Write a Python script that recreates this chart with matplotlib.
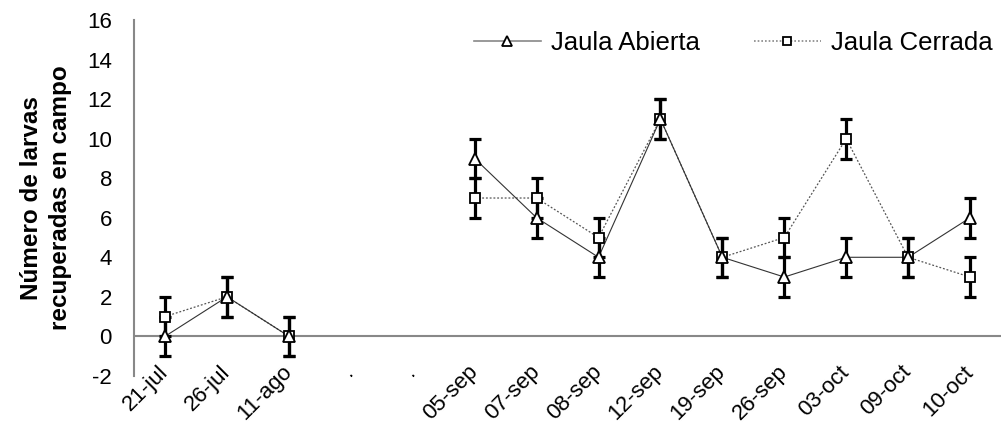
import matplotlib.pyplot as plt
import numpy as np

plt.rcParams['font.family'] = ['Liberation Sans', 'DejaVu Sans']
plt.rcParams['axes.unicode_minus'] = False

fechas = ['21-jul', '26-jul', '11-ago', '.', '.', '05-sep', '07-sep', '08-sep',
          '12-sep', '19-sep', '26-sep', '03-oct', '09-oct', '10-oct']
abierta = [0, 2, 0, np.nan, np.nan, 9, 6, 4, 11, 4, 3, 4, 4, 6]
cerrada = [1, 2, 0, np.nan, np.nan, 7, 7, 5, 11, 4, 5, 10, 4, 3]
err_abierta = [1, 1, 1, np.nan, np.nan, 1, 1, 1, 1, 1, 1, 1, 1, 1]
err_cerrada = [1, 1, 1, np.nan, np.nan, 1, 1, 1, 1, 1, 1, 1, 1, 1]

x = np.arange(len(fechas))

fig = plt.figure(figsize=(10.01, 4.30), dpi=100)
ax = fig.add_axes([0.134, 0.126, 0.866, 0.827])

# lines (NaN leaves the gap between 11-ago and 05-sep)
ax.plot(x, cerrada, ls=(0, (1.5, 1.5)), color='#555555', lw=0.9, zorder=2)
ax.plot(x, abierta, ls='-', color='#333333', lw=0.8, zorder=2)

ax.errorbar(x, cerrada, yerr=err_cerrada, fmt='none', ecolor='black',
            elinewidth=2.3, capsize=4.5, capthick=2.3, zorder=3)
ax.errorbar(x, abierta, yerr=err_abierta, fmt='none', ecolor='black',
            elinewidth=2.3, capsize=4.5, capthick=2.3, zorder=3)

ax.plot(x, cerrada, ls='none', marker='s', ms=7, mfc='white', mec='black',
        mew=1.3, zorder=4)
ax.plot(x, abierta, ls='none', marker='^', ms=8, mfc='white', mec='black',
        mew=1.3, zorder=5)

# legend proxies
h1, = ax.plot([], [], ls='-', color='#888888', lw=1.2, marker='^', ms=7,
              mfc='white', mec='black', mew=1.3)
h2, = ax.plot([], [], ls=(0, (1, 1.2)), color='#888888', lw=1.2, marker='s',
              ms=6, mfc='white', mec='black', mew=1.3)
ax.legend([h1, h2], ['Jaula Abierta', 'Jaula Cerrada'], ncol=2, frameon=False,
          loc='upper right', bbox_to_anchor=(1.017, 1.035), fontsize=18.5,
          handlelength=2.6, columnspacing=2.1, handletextpad=0.4)

ax.set_xlim(-0.5, len(fechas) - 0.5)
ax.set_ylim(-2, 16)
ax.set_yticks(range(-2, 17, 2))
ax.set_xticks(x)
ax.set_xticklabels(fechas, rotation=45, ha='right', va='center',
                   rotation_mode='anchor')
ax.tick_params(axis='both', length=0, labelsize=16)
ax.tick_params(axis='x', pad=-5)
ax.tick_params(axis='y', pad=16)

for s in ['top', 'right', 'bottom']:
    ax.spines[s].set_visible(False)
ax.spines['left'].set_color('#888888')
ax.spines['left'].set_linewidth(1.5)
ax.axhline(0, color='#888888', lw=1.5, zorder=1)

ax.set_ylabel('Número de larvas\nrecuperadas en campo', fontsize=17.5,
              fontweight='bold', linespacing=1.35)
ax.yaxis.set_label_coords(-0.0715, 0.5)

fig.savefig('out.png', dpi=100)
